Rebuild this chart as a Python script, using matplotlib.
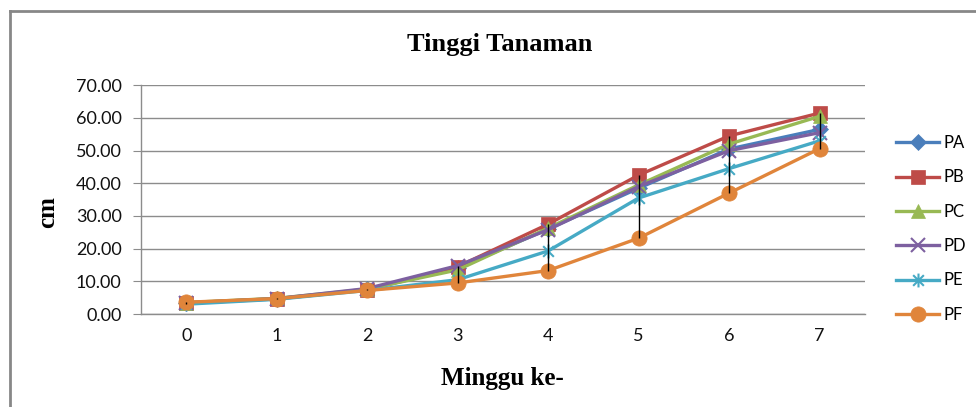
import numpy as np
import matplotlib
matplotlib.use("Agg")
import matplotlib.pyplot as plt
from matplotlib.path import Path
from matplotlib.lines import Line2D

# data
weeks = [0, 1, 2, 3, 4, 5, 6, 7]
PA = [3.3, 4.6, 7.5, 14.0, 26.0, 38.5, 50.5, 56.5]
PB = [3.4, 4.7, 7.4, 14.5, 27.5, 42.5, 54.5, 61.5]
PC = [3.5, 4.8, 7.6, 13.5, 26.3, 39.5, 52.0, 60.5]
PD = [3.4, 4.7, 7.8, 14.8, 25.8, 39.0, 50.0, 55.5]
PE = [3.0, 4.5, 7.2, 10.5, 19.3, 35.5, 44.5, 53.0]
PF = [3.6, 4.7, 7.2, 9.5, 13.3, 23.2, 37.0, 50.6]
names = ["PA", "PB", "PC", "PD", "PE", "PF"]
yticks = [0, 10, 20, 30, 40, 50, 60, 70]

# excel style "star" marker: an x with a vertical bar
star = Path([(-1, -1), (1, 1), (-1, 1), (1, -1), (0, -1.3), (0, 1.3)],
            [Path.MOVETO, Path.LINETO, Path.MOVETO, Path.LINETO, Path.MOVETO, Path.LINETO])

styles = [
    ("#4A7EBB", "D", 8),
    ("#BE4B48", "s", 10),
    ("#98B954", "^", 10),
    ("#7D60A0", "x", 10),
    ("#46AAC5", star, 10),
    ("#E0853B", "o", 11),
]

fig = plt.figure(figsize=(9.76, 4.07), dpi=100)
ax = fig.add_axes([0.1445, 0.2285, 0.886 - 0.1445, 0.7904 - 0.2285])

series = [PA, PB, PC, PD, PE, PF]
for name, vals, (col, mk, ms) in zip(names, series, styles):
    thin = mk == "x" or mk is star
    ax.plot(weeks, vals, color=col, lw=2.4, marker=mk, markersize=ms,
            markeredgewidth=1.5 if thin else 0.5,
            markeredgecolor=col, label=name, zorder=3)

# high-low lines
data = np.array(series)
ax.vlines(weeks, data.min(axis=0), data.max(axis=0), color="black", lw=1, zorder=5)

ax.set_xlim(-0.5, 7.5)
ax.set_ylim(0, 70)
ax.set_yticks(yticks)
ax.set_yticklabels([f"{v:.2f}" for v in yticks])
ax.set_xticks(weeks)
ax.yaxis.grid(True, color="#8C8C8C", lw=1)
ax.set_axisbelow(True)
for s in ["top", "right"]:
    ax.spines[s].set_visible(False)
for s in ["left", "bottom"]:
    ax.spines[s].set_color("#8C8C8C")
    ax.spines[s].set_linewidth(1)
ax.tick_params(axis="y", length=6, color="#8C8C8C", labelsize=13, pad=8)
ax.tick_params(axis="x", length=0, labelsize=13, pad=10)
for lab in ax.get_xticklabels() + ax.get_yticklabels():
    lab.set_family("Lato")
    lab.set_color("#111111")

fig.text(0.512, 0.89, "Tinggi Tanaman", ha="center", va="center",
         family="Liberation Serif", fontweight="bold", fontsize=19)
fig.text(0.515, 0.07, "Minggu ke-", ha="center", va="center",
         family="Liberation Serif", fontweight="bold", fontsize=18)
fig.text(0.049, 0.48, "cm", ha="center", va="center", rotation=90,
         family="Liberation Serif", fontweight="bold", fontsize=18)

leg = ax.legend(loc="center left", bbox_to_anchor=(1.043, 0.372), frameon=False,
                prop={"family": "Lato", "size": 12}, labelspacing=1.1,
                handlelength=2.6, handletextpad=0.25, borderpad=0, borderaxespad=0)

# outer chart border (left and top edges visible)
fig.add_artist(Line2D([10 / 976, 10 / 976], [0, 1 - 11 / 407], transform=fig.transFigure,
                      color="#878787", lw=2))
fig.add_artist(Line2D([10 / 976, 1], [1 - 11 / 407, 1 - 11 / 407], transform=fig.transFigure,
                      color="#878787", lw=2))

fig.savefig("out.png", dpi=100)
